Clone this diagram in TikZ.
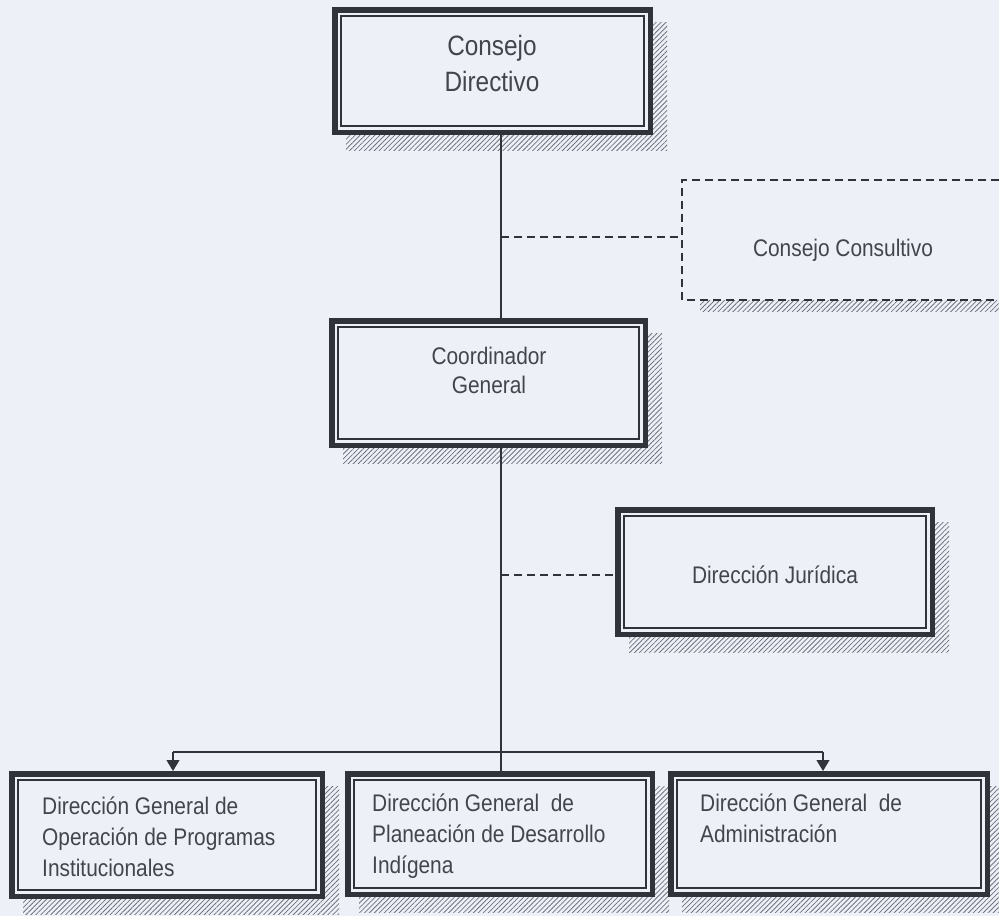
\documentclass[tikz,border=0pt]{standalone}
\usepackage{fontspec}
\setmainfont[FakeStretch=0.87]{Liberation Sans}
\usetikzlibrary{arrows.meta,patterns.meta,backgrounds}
\definecolor{bgc}{RGB}{238,240,248}
\definecolor{linec}{RGB}{48,52,58}
\definecolor{textc}{RGB}{66,69,74}
\definecolor{hatchc}{RGB}{110,115,125}
\newcommand\orgframe[1]{%
  \draw[thickframe] ([xshift=2.75pt,yshift=-2.75pt]#1.north west) rectangle ([xshift=-2.75pt,yshift=2.75pt]#1.south east);
  \draw[thinframe] ([xshift=9pt,yshift=-9pt]#1.north west) rectangle ([xshift=-9pt,yshift=9pt]#1.south east);}
\newcommand\orgshadow[1]{%
  \fill[hatch] ([xshift=14pt,yshift=-15pt]#1.north west) rectangle ([xshift=14pt,yshift=-15pt]#1.south east);}
\begin{document}
\begin{tikzpicture}[x=1pt,y=-1pt,
  box/.style={anchor=north west, inner sep=0pt, outer sep=0pt, fill=bgc},
  lbl/.style={inner sep=0pt, text=textc, font=\fontsize{24}{31}\selectfont},
  conn/.style={draw=linec, line width=1.1pt},
  dconn/.style={conn, dash pattern=on 8pt off 5pt},
  arr/.style={conn, -{Triangle[width=13pt,length=11pt]}},
  hatch/.style={pattern={Lines[angle=45,distance=3.5pt,line width=0.8pt]}, pattern color=hatchc},
  thickframe/.style={draw=linec, line width=5.5pt},
  thinframe/.style={draw=linec, line width=1.5pt}
]
\path[use as bounding box] (0,0) rectangle (999,916);

% boxes
\node[box, minimum width=321pt, minimum height=128pt] (cd) at (332,7) {};
\node[box, minimum width=317pt, minimum height=120pt] (cc) at (682,180) {};
\node[box, minimum width=319pt, minimum height=130pt] (cg) at (329,318) {};
\node[box, minimum width=320pt, minimum height=130pt] (dj) at (615,507) {};
\node[box, minimum width=316pt, minimum height=128pt] (b1) at (9,771) {};
\node[box, minimum width=310pt, minimum height=126pt] (b2) at (345,771) {};
\node[box, minimum width=322pt, minimum height=126pt] (b3) at (668,771) {};

\begin{pgfonlayer}{background}
  \fill[bgc] (0,0) rectangle (999,916);
  \orgshadow{cd}
  \orgshadow{cg}
  \orgshadow{dj}
  \orgshadow{b1}
  \orgshadow{b2}
  \fill[hatch] ([xshift=14pt,yshift=-15pt]b3.north west) rectangle (999,912);
  \fill[hatch] ([xshift=18pt]cc.south west) rectangle (999,311);
\end{pgfonlayer}

\orgframe{cd}
\orgframe{cg}
\orgframe{dj}
\orgframe{b1}
\orgframe{b2}
\orgframe{b3}
\draw[dconn, line width=1.4pt] (cc.north east) -- (cc.north west) -- (cc.south west) -- (cc.south east);

% texts
\node[lbl, anchor=north, align=center, font=\fontsize{28}{36}\selectfont] (cdt) at (492,35) {Consejo\\Directivo};
\node[lbl, anchor=north] (cct) at (843,239) {Consejo Consultivo};
\node[lbl, anchor=north, align=center, font=\fontsize{24}{29}\selectfont] (cgt) at (489,347) {Coordinador\\General};
\node[lbl, anchor=north] (djt) at (775,566) {Dirección Jurídica};
\node[lbl, anchor=north west, align=left] (b1t) at (42,797) {Dirección General de\\Operación de Programas\\Institucionales};
\node[lbl, anchor=north west, align=left] (b2t) at (372,794) {Dirección General~ de\\Planeación de Desarrollo\\Indígena};
\node[lbl, anchor=north west, align=left] (b3t) at (700,794) {Dirección General~ de\\Administración};

% connectors
\coordinate (spine) at (501,0);
\coordinate (k1) at (501,237);
\coordinate (k2) at (501,575);
\coordinate (jl) at (173,752);
\coordinate (jr) at (823,752);
\draw[conn] (cd.south -| spine) -- (cg.north -| spine);
\draw[conn] (cg.south -| spine) -- (b2.north -| spine);
\draw[dconn] (k1) -- (k1 -| cc.west);
\draw[dconn] (k2) -- (k2 -| dj.west);
\draw[conn] (jl) -- (jr);
\draw[arr] (jl) -- (jl |- b1.north);
\draw[arr] (jr) -- (jr |- b3.north);
\end{tikzpicture}
\end{document}
